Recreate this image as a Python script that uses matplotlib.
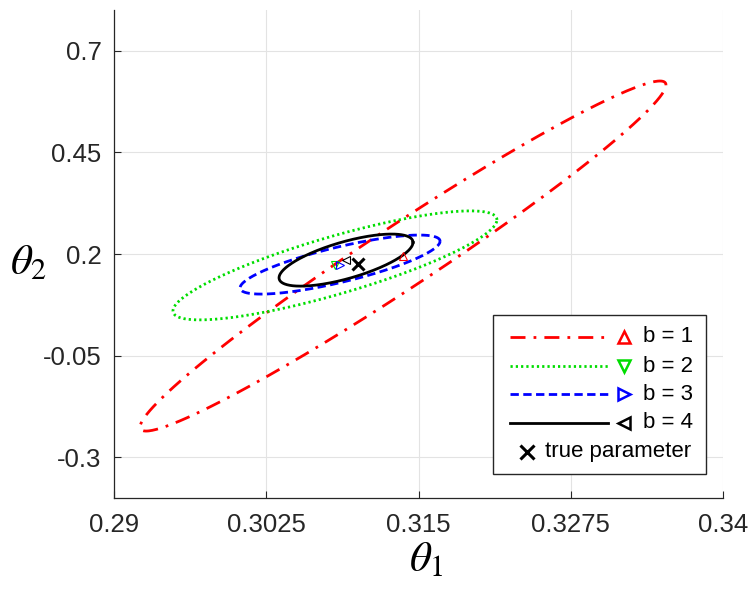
import numpy as np
import matplotlib
matplotlib.use('Agg')
import matplotlib.pyplot as plt
from matplotlib.patches import Rectangle

plt.rcParams['font.family'] = ['Liberation Sans', 'DejaVu Sans']
plt.rcParams['mathtext.fontset'] = 'stix'

# confidence ellipses: centre, half extents, correlation
labels = ['b = 1', 'b = 2', 'b = 3', 'b = 4']
center_t1 = [0.31373, 0.30814, 0.30856, 0.30905]
center_t2 = [0.195, 0.172, 0.174, 0.185]
half_t1 = [0.02159, 0.0133, 0.00821, 0.0055]
half_t2 = [0.4304, 0.134, 0.0726, 0.064]
corr = [0.977, 0.835, 0.79, 0.68]
true_t1, true_t2 = 0.31, 0.176

xticks = [0.29, 0.3025, 0.315, 0.3275, 0.34]
xticklabels = ['0.29', '0.3025', '0.315', '0.3275', '0.34']
yticks = [-0.3, -0.05, 0.2, 0.45, 0.7]
yticklabels = ['-0.3', '-0.05', '0.2', '0.45', '0.7']

colors = ['#ff0000', '#00dd00', '#0000ff', '#000000']
styles = [(0, (5.4, 2.9, 1, 2.9)), (0, (0.8, 1.1)), (0, (3, 1.6)), '-']
markers = ['^', 'v', '>', '<']


def ellipse(cx, cy, sx, sy, r, n=400):
    t = np.linspace(0, 2 * np.pi, n)
    x = cx + sx * np.cos(t)
    y = cy + sy * (r * np.cos(t) + np.sqrt(1 - r * r) * np.sin(t))
    return x, y


fig = plt.figure(figsize=(7.56, 5.95), dpi=100)
ax = fig.add_axes([114 / 756, 1 - 498 / 595, 609 / 756, 488 / 595])

for i in range(len(labels)):
    x, y = ellipse(center_t1[i], center_t2[i], half_t1[i], half_t2[i], corr[i])
    ax.plot(x, y, color=colors[i], linestyle=styles[i], lw=2, zorder=3)
for i in range(len(labels)):
    ax.plot(center_t1[i], center_t2[i], marker=markers[i], ms=6, mew=0.8,
            mfc='none', mec=colors[i], ls='none', zorder=4)
ax.plot(true_t1, true_t2, marker='x', ms=9, mew=2.2, color='k', ls='none', zorder=4)

ax.set_xlim(0.29, 0.34)
ax.set_ylim(-0.4, 0.8)
ax.set_xticks(xticks, xticklabels)
ax.set_yticks(yticks, yticklabels)
ax.grid(True, color='#e3e3e3', lw=0.8)
ax.set_axisbelow(True)
for s in ['top', 'right']:
    ax.spines[s].set_visible(False)
for s in ['left', 'bottom']:
    ax.spines[s].set_color('#262626')
    ax.spines[s].set_linewidth(0.9)
ax.tick_params(direction='in', length=5, width=0.8, colors='#262626',
               labelsize=18.5)
ax.tick_params(axis='x', pad=11)
ax.tick_params(axis='y', pad=9)

ax.set_xlabel(r'$\theta_1$', fontsize=31, va='center')
ax.xaxis.set_label_coords(0.512, -0.128)
ax.set_ylabel(r'$\theta_2$', fontsize=31, rotation=0, ha='center', va='center')
ax.yaxis.set_label_coords(-0.14, 0.48)


# hand-built legend, pixel layout converted to axes fraction
def pa(px, py):
    return (px - 114) / 609, (498 - py) / 488


x0, y0 = pa(493, 474)
x1, y1 = pa(706, 315)
ax.add_patch(Rectangle((x0, y0), x1 - x0, y1 - y0, transform=ax.transAxes,
                       fc='white', ec='#262626', lw=1, zorder=5, clip_on=False))
rows = [337, 366, 394, 423, 452]
for i in range(len(labels)):
    lx0, ly = pa(510, rows[i])
    lx1, _ = pa(608, rows[i])
    mx, _ = pa(624, rows[i])
    tx, _ = pa(643, rows[i])
    ax.plot([lx0, lx1], [ly, ly], color=colors[i], linestyle=styles[i], lw=2,
            transform=ax.transAxes, zorder=6, clip_on=False)
    ax.plot(mx, ly, marker=markers[i], ms=8, mew=1.8, mfc='none', mec=colors[i],
            transform=ax.transAxes, zorder=6, clip_on=False)
    ax.text(tx, ly, labels[i], fontsize=16, va='center', ha='left',
            transform=ax.transAxes, zorder=6)
mx, ly = pa(527, rows[4])
tx, _ = pa(545, rows[4])
ax.plot(mx, ly, marker='x', ms=10, mew=2.2, color='k',
        transform=ax.transAxes, zorder=6, clip_on=False)
ax.text(tx, ly, 'true parameter', fontsize=16, va='center', ha='left',
        transform=ax.transAxes, zorder=6)

fig.savefig('out.png', dpi=100)
